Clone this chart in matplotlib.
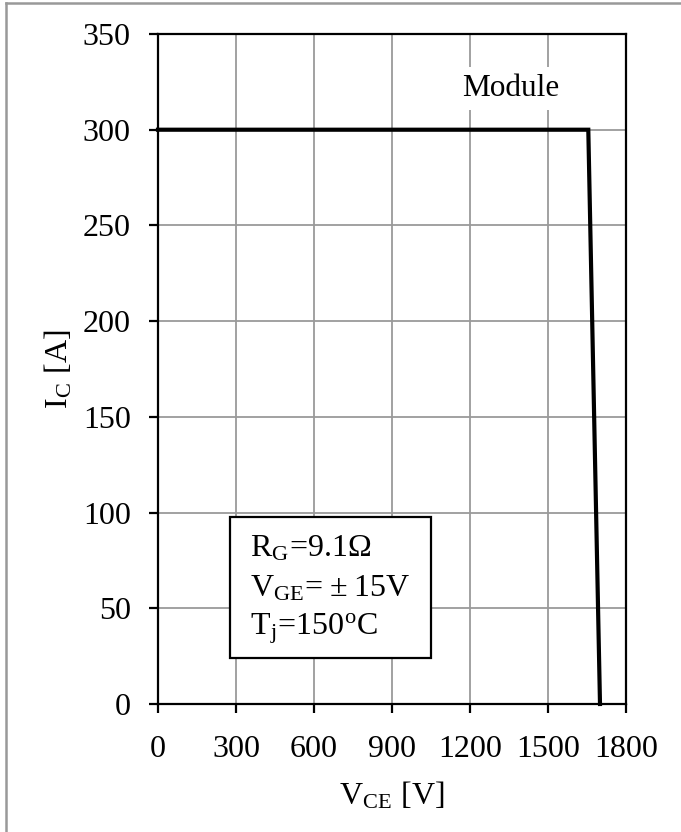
import matplotlib
matplotlib.use("Agg")
import matplotlib.pyplot as plt
from matplotlib.patches import Rectangle
from matplotlib.lines import Line2D

# RBSOA curve of the module
vce = [0, 1655, 1700]
ic = [300, 300, 0]

x_ticks = [0, 300, 600, 900, 1200, 1500, 1800]
y_ticks = [0, 50, 100, 150, 200, 250, 300, 350]

cond_lines = [r'R$_{\mathregular{G}}$=9.1Ω',
              'V$_{\\mathregular{GE}}$=\u2009±\u200915V',
              r'T$_{\mathregular{j}}$=150$^{\mathregular{o}}$C']

plt.rcParams['font.family'] = ['Liberation Serif', 'DejaVu Serif']
plt.rcParams['mathtext.fontset'] = 'stix'

W, H = 681, 832
fig = plt.figure(figsize=(W / 100, H / 100), dpi=100)
ax = fig.add_axes([158 / W, 1 - 704 / H, 468 / W, 670 / H])

ax.plot(vce, ic, color='black', lw=3, solid_joinstyle='miter', zorder=4, clip_on=False)

ax.set_xlim(0, 1800)
ax.set_ylim(0, 350)
ax.set_xticks(x_ticks)
ax.set_yticks(y_ticks)
ax.grid(True, color='#9a9a9a', lw=1.3)
ax.set_axisbelow(True)
for s in ax.spines.values():
    s.set_linewidth(1.6)
    s.set_color('black')
ax.tick_params(direction='out', length=6.5, width=1.6, labelsize=23)
ax.tick_params(axis='x', pad=16)
ax.tick_params(axis='y', pad=13)

ax.set_xlabel(r'V$_{\mathregular{CE}}$ [V]', fontsize=23, labelpad=12)
ax.set_ylabel(r'I$_{\mathregular{C}}$ [A]', fontsize=23, labelpad=6)

ax.text(1358, 321.5, 'Module', fontsize=22.5, ha='center', va='center',
        bbox=dict(facecolor='white', edgecolor='none', pad=5), zorder=5)

# condition box
ax.add_patch(Rectangle((277, 24), 773, 73.7, facecolor='white', edgecolor='black',
                       lw=1.6, zorder=5))
for i, t in enumerate(cond_lines):
    ax.text(354, 77 - i * 20.8, t, fontsize=23, ha='left', va='baseline', zorder=6)

# page border (left and top)
fig.add_artist(Line2D([5.5 / W, 5.5 / W], [0, 1 - 2.5 / H], color='#999999', lw=1.8,
                      transform=fig.transFigure))
fig.add_artist(Line2D([5.5 / W, 1], [1 - 2.5 / H, 1 - 2.5 / H], color='#999999', lw=1.8,
                      transform=fig.transFigure))

fig.savefig('out.png', dpi=100)
